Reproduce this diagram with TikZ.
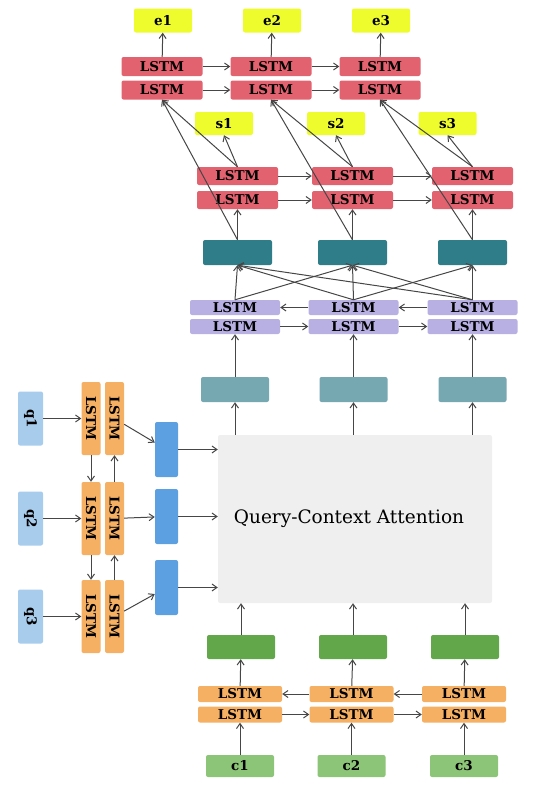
\documentclass[tikz,border=0pt]{standalone}
\usepackage{fontspec}
\setmainfont{DejaVu Serif}
\usepackage{tikz}
\usetikzlibrary{
  arrows.meta,
  positioning
}
\usepackage{xcolor}
\definecolor{outyellow}{RGB}{238,252,46}
\definecolor{lstmred}{RGB}{226,98,112}
\definecolor{darkteal}{RGB}{46,125,136}
\definecolor{lavender}{RGB}{184,176,226}
\definecolor{lightteal}{RGB}{118,168,178}
\definecolor{attgray}{RGB}{239,239,239}
\definecolor{qblue}{RGB}{168,204,236}
\definecolor{lstmorange}{RGB}{245,176,100}
\definecolor{midblue}{RGB}{92,160,226}
\definecolor{darkgreen}{RGB}{98,168,74}
\definecolor{lightgreen}{RGB}{140,196,120}
\definecolor{linegray}{RGB}{70,70,70}

\begin{document}
\begin{tikzpicture}[x=1pt, y=-1pt,
  box/.style={rectangle, rounded corners=2pt, inner sep=0pt,
    font=\bfseries\fontsize{13.5}{15}\selectfont},
  lstm/.style={box, minimum width=#1},
  vlstm/.style={box, fill=lstmorange, rotate=-90,
    minimum width=73pt, minimum height=19pt},
  arr/.style={-{Straight Barb[length=5pt,width=7pt]}, draw=linegray,
    line width=1pt}]
  \useasboundingbox (0,0) rectangle (540,795);

  % Output layer e1..e3 and the top two LSTM rows
  \foreach \i/\x in {1/162, 2/271, 3/380}{
    \node[box, fill=outyellow, minimum width=58pt, minimum height=24pt]
      (e\i) at (\x+1, 20.5) {e\i};
    \node[lstm=81pt, fill=lstmred, minimum height=19pt] (topA\i) at (\x, 66.5) {LSTM};
    \node[lstm=81pt, fill=lstmred, minimum height=19pt] (topB\i) at (\x, 90) {LSTM};
  }

  % s1..s3 and the second red LSTM rows
  \foreach \i/\x/\sx in {1/237.5/224, 2/352.5/336, 3/472.5/447.5}{
    \node[box, fill=outyellow, minimum width=58pt, minimum height=23pt]
      (s\i) at (\sx, 123.5) {s\i};
    \node[lstm=81pt, fill=lstmred, minimum height=18pt] (smidA\i) at (\x, 176) {LSTM};
    \node[lstm=81pt, fill=lstmred, minimum height=18pt] (smidB\i) at (\x, 200) {LSTM};
    \node[box, fill=darkteal, minimum width=69pt, minimum height=25pt]
      (att\i) at (\x, 252.5) {};
  }

  % Lavender bi-LSTM and the light teal boxes
  \foreach \i/\x in {1/235, 2/353.5, 3/472.5}{
    \node[lstm=90pt, fill=lavender, minimum height=15pt] (bilA\i) at (\x, 307.5) {LSTM};
    \node[lstm=90pt, fill=lavender, minimum height=15pt] (bilB\i) at (\x, 326.5) {LSTM};
    \node[box, fill=lightteal, minimum width=68pt, minimum height=25pt]
      (qc\i) at (\x, 389.5) {};
  }

  % Attention block
  \node[box, fill=attgray, minimum width=274pt, minimum height=168pt,
    font=\fontsize{18.5}{20}\selectfont] (attn) at (355, 519)
    {Query-Context Attention\hspace*{12pt}};

  % Query side (rotated)
  \foreach \i/\y/\by in {1/418.5/449.5, 2/518.5/516.5, 3/616.5/587.5}{
    \node[box, fill=qblue, rotate=-90, minimum width=54pt, minimum height=25pt]
      (q\i) at (30.5, \y) {q\i};
    \node[vlstm] (qf\i) at (91, \y) {LSTM};
    \node[vlstm] (qb\i) at (114.5, \y) {LSTM};
    \node[box, fill=midblue, minimum width=23pt, minimum height=55pt]
      (qout\i) at (166.5, \by) {};
  }

  % Context side
  \foreach \i/\x/\cx in {1/241/240, 2/353/351.5, 3/465/464}{
    \node[box, fill=darkgreen, minimum width=68pt, minimum height=24pt]
      (ctx\i) at (\x, 647) {};
    \node[lstm=84pt, fill=lstmorange, minimum height=16pt] (cA\i) at (\cx, 694) {LSTM};
    \node[lstm=84pt, fill=lstmorange, minimum height=16pt] (cB\i) at (\cx, 714.5) {LSTM};
    \node[box, fill=lightgreen, minimum width=68pt, minimum height=22pt]
      (c\i) at (\cx, 766) {c\i};
  }

  % Horizontal recurrences
  \foreach \i/\j in {1/2, 2/3}{
    \draw[arr] (topA\i) -- (topA\j);
    \draw[arr] (topB\i) -- (topB\j);
    \draw[arr] (smidA\i) -- (smidA\j);
    \draw[arr] (smidB\i) -- (smidB\j);
    \draw[arr] (bilA\j) -- (bilA\i);
    \draw[arr] (bilB\i) -- (bilB\j);
    \draw[arr] (cA\j) -- (cA\i);
    \draw[arr] (cB\i) -- (cB\j);
    \draw[arr] (qf\i) -- (qf\j);
    \draw[arr] (qb\j) -- (qb\i);
  }

  % Vertical flow per column
  \foreach \i in {1,2,3}{
    \draw[arr] (topA\i) -- (e\i);
    \draw[arr] (smidA\i.north) -- (topB\i.south);
    \draw[arr] (att\i.north) -- (topB\i.south);
    \draw[arr] (smidA\i.north) -- (s\i.south);
    \draw[arr] (att\i) -- (smidB\i);
    \draw[arr] (qc\i) -- (bilB\i);
    \draw[arr] (qc\i |- attn.north) -- (qc\i);
    \draw[arr] (ctx\i) -- (ctx\i |- attn.south);
    \draw[arr] (cA\i) -- (ctx\i);
    \draw[arr] (c\i) -- (cB\i);
    \draw[arr] (q\i) -- (qf\i);
    \draw[arr] (qb\i) -- (qout\i);
    \draw[arr] (qout\i) -- (qout\i -| attn.west);
  }

  % Self-matching links into the dark teal boxes
  \foreach \s/\d in {1/1, 1/2, 2/1, 2/2, 2/3, 3/1, 3/2, 3/3}{
    \draw[arr] (bilA\s.north) -- (att\d.south);
  }
\end{tikzpicture}
\end{document}
